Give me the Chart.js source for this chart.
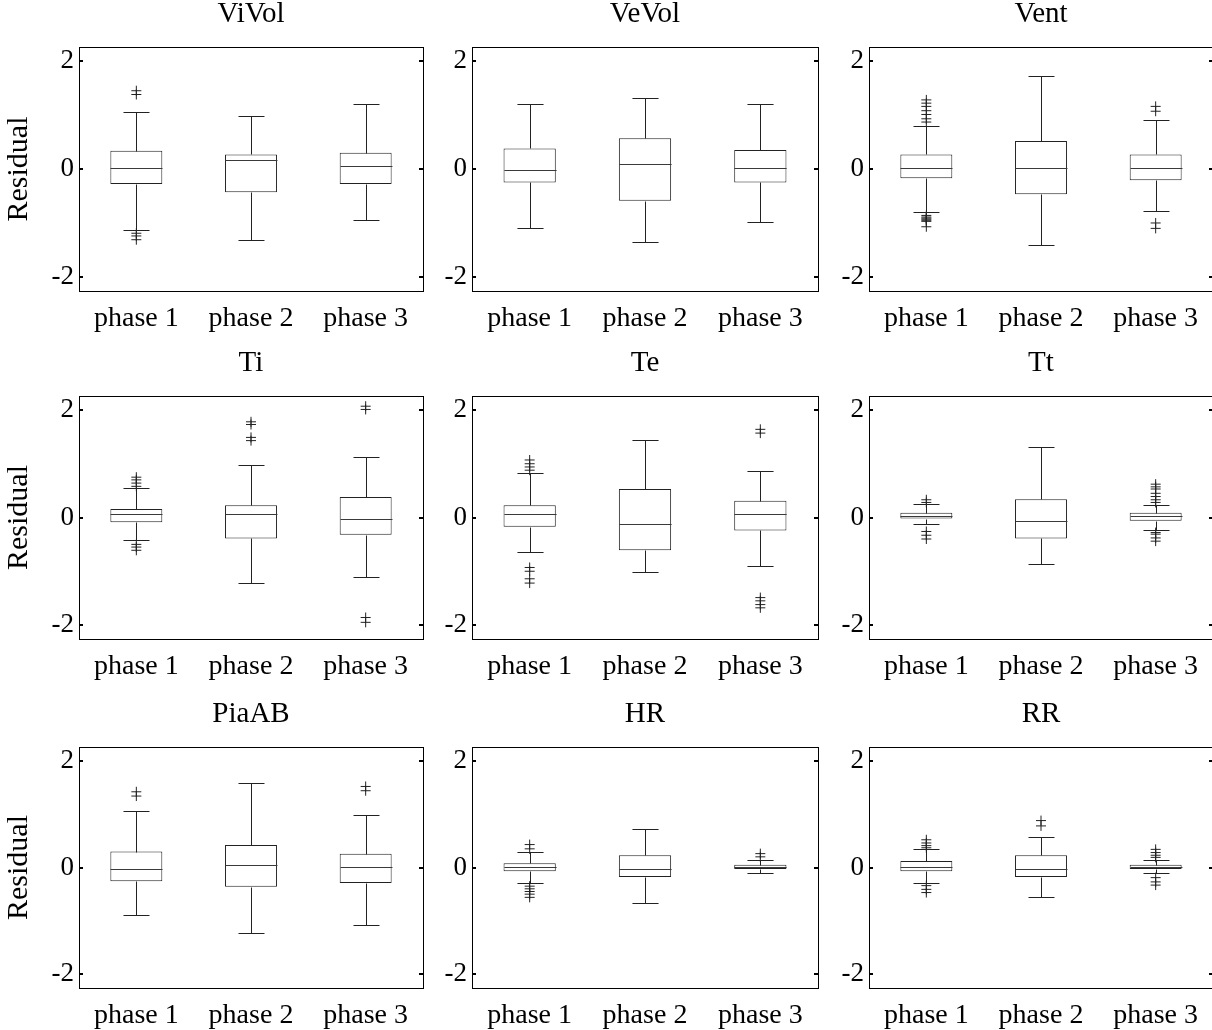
<!DOCTYPE html>
<html><head><meta charset="utf-8">
<script src="https://cdn.jsdelivr.net/npm/chart.js@4.4.0/dist/chart.umd.min.js"></script>
<style>
html,body{margin:0;padding:0;background:#fff;width:1212px;height:1030px;overflow:hidden;position:relative}
canvas{position:absolute}
</style></head><body>
<script>
// ---------------- data ----------------
const categories = ['phase 1', 'phase 2', 'phase 3'];
const panelTitles = ['ViVol', 'VeVol', 'Vent', 'Ti', 'Te', 'Tt', 'PiaAB', 'HR', 'RR'];
const yAxisTitle = 'Residual';
const yTickValues = [-2, 0, 2];
const yLimits = [-2.26, 2.26];

// lower quartile per panel, per phase
const boxLow = [
  [-0.28, -0.43, -0.28], [-0.25, -0.59, -0.25], [-0.17, -0.47, -0.21],
  [-0.09, -0.39, -0.32], [-0.17, -0.61, -0.24], [-0.02, -0.39, -0.06],
  [-0.26, -0.36, -0.29], [-0.07, -0.18, -0.03], [-0.07, -0.18, -0.03]
];
// median
const boxMedian = [
  [0.01, 0.16, 0.05], [-0.02, 0.09, 0.01], [0.01, 0.01, 0.01],
  [0.06, 0.06, -0.02], [0.06, -0.13, 0.06], [0.03, -0.06, 0.02],
  [-0.03, 0.05, 0.01], [0.01, -0.03, 0.01], [0.01, -0.03, 0.01]
];
// upper quartile
const boxHigh = [
  [0.34, 0.27, 0.30], [0.38, 0.57, 0.35], [0.27, 0.52, 0.27],
  [0.16, 0.23, 0.38], [0.23, 0.53, 0.31], [0.09, 0.34, 0.09],
  [0.30, 0.42, 0.26], [0.08, 0.23, 0.05], [0.12, 0.23, 0.05]
];
// lower whisker end
const whiskerLow = [
  [-1.13, -1.32, -0.95], [-1.10, -1.36, -0.99], [-0.80, -1.40, -0.77],
  [-0.42, -1.21, -1.10], [-0.65, -1.02, -0.91], [-0.13, -0.87, -0.24],
  [-0.90, -1.23, -1.08], [-0.29, -0.67, -0.10], [-0.29, -0.55, -0.10]
];
// upper whisker end
const whiskerHigh = [
  [1.05, 0.98, 1.20], [1.20, 1.31, 1.20], [0.79, 1.72, 0.90],
  [0.54, 0.97, 1.12], [0.83, 1.45, 0.86], [0.25, 1.31, 0.24],
  [1.06, 1.59, 0.99], [0.30, 0.73, 0.15], [0.35, 0.57, 0.15]
];
// outliers
const outliers = [
  [[1.45, 1.38, -1.19, -1.24, -1.31], [], []],
  [[], [], []],
  [[1.28, 1.22, 1.16, 1.08, 1.01, 0.93, 0.87, -0.86, -0.89, -0.91, -0.93, -0.95, -0.97, -1.07], [], [1.16, 1.07, -1.00, -1.10]],
  [[0.75, 0.70, 0.64, 0.58, -0.50, -0.55, -0.61], [1.78, 1.73, 1.49, 1.43], [2.07, 2.01, -1.86, -1.95]],
  [[1.07, 1.00, 0.94, 0.88, -0.93, -1.00, -1.14, -1.22], [], [1.64, 1.57, -1.49, -1.55, -1.62, -1.68]],
  [[0.33, 0.28, -0.26, -0.33, -0.40], [], [0.62, 0.57, 0.53, 0.45, 0.39, 0.33, 0.28, -0.28, -0.31, -0.38, -0.44]],
  [[1.42, 1.34], [], [1.52, 1.44]],
  [[0.43, 0.35, -0.35, -0.40, -0.45, -0.50, -0.56], [], [0.26, 0.20]],
  [[0.52, 0.46, 0.41, 0.37, -0.34, -0.41, -0.47], [0.88, 0.78], [0.34, 0.28, 0.23, 0.19, -0.19, -0.27, -0.33]]
];

// ---------------- layout ----------------
const colLeft = [79, 472, 869];
const colWidth = [344, 346, 344];
const rowTop = [47, 396, 747];
const rowHeight = [244, 243, 241];
const AXW = 79, TOPSP = 60, BOTSP = 45, RIGHTSP = 10;
const TITLE_SIZE = 29, TITLE_PAD = 15.6;
const FONT = "'Liberation Serif', 'Times New Roman', serif";
const LINE = '#222';

const boxplotPlugin = {
  id: 'boxplotExtras',
  afterDatasetsDraw(chart, args, opts) {
    const p = opts.panel;
    const {ctx, scales: {x, y}} = chart;
    const meta = chart.getDatasetMeta(0);
    ctx.save();
    ctx.lineWidth = 1;
    categories.forEach((c, i) => {
      const cx = Math.round(x.getPixelForValue(i)) + 0.5;
      const bw = meta.data[i].width;
      const cap = bw / 4;
      const py = v => Math.round(y.getPixelForValue(v)) + 0.5;
      ctx.strokeStyle = LINE;
      ctx.beginPath();
      ctx.moveTo(cx, py(boxHigh[p][i])); ctx.lineTo(cx, py(whiskerHigh[p][i]));
      ctx.moveTo(cx - cap, py(whiskerHigh[p][i])); ctx.lineTo(cx + cap, py(whiskerHigh[p][i]));
      ctx.moveTo(cx, py(boxLow[p][i])); ctx.lineTo(cx, py(whiskerLow[p][i]));
      ctx.moveTo(cx - cap, py(whiskerLow[p][i])); ctx.lineTo(cx + cap, py(whiskerLow[p][i]));
      ctx.stroke();
      ctx.strokeStyle = '#3a3a3a';
      ctx.beginPath();
      ctx.moveTo(cx - bw / 2, py(boxMedian[p][i])); ctx.lineTo(cx + bw / 2, py(boxMedian[p][i]));
      ctx.stroke();
    });
    ctx.restore();
  },
  afterDraw(chart) {
    const {ctx, chartArea: a, scales: {y}} = chart;
    ctx.save();
    ctx.strokeStyle = '#000';
    ctx.lineWidth = 1;
    ctx.strokeRect(Math.round(a.left) + 0.5, Math.round(a.top) + 0.5,
      Math.round(a.right - a.left), Math.round(a.bottom - a.top));
    ctx.lineWidth = 2;
    ctx.beginPath();
    yTickValues.forEach(v => {
      const yy = Math.round(y.getPixelForValue(v));
      ctx.moveTo(a.left, yy); ctx.lineTo(a.left + 4, yy);
      ctx.moveTo(a.right, yy); ctx.lineTo(a.right - 4, yy);
    });
    ctx.stroke();
    ctx.restore();
  }
};

panelTitles.forEach((title, p) => {
  const col = p % 3, row = Math.floor(p / 3);
  const cv = document.createElement('canvas');
  const w = AXW + colWidth[col] + RIGHTSP;
  const h = TOPSP + rowHeight[row] + BOTSP;
  cv.width = w; cv.height = h;
  cv.style.left = (colLeft[col] - AXW) + 'px';
  cv.style.top = (rowTop[row] - TOPSP) + 'px';
  cv.style.width = w + 'px'; cv.style.height = h + 'px';
  document.body.appendChild(cv);

  const outlierPts = [];
  outliers[p].forEach((list, i) => list.forEach(v => outlierPts.push({x: categories[i], y: v})));

  new Chart(cv, {
    type: 'bar',
    data: {
      labels: categories,
      datasets: [
        {
          type: 'bar',
          data: categories.map((c, i) => [boxLow[p][i], boxHigh[p][i]]),
          backgroundColor: '#ffffff',
          borderColor: LINE,
          borderWidth: 1,
          borderSkipped: false,
          barPercentage: 0.453,
          categoryPercentage: 1
        },
        {
          type: 'line',
          showLine: false,
          data: outlierPts,
          pointStyle: 'cross',
          pointRadius: 5,
          pointBorderColor: LINE,
          borderColor: LINE,
          pointBorderWidth: 1,
          backgroundColor: 'transparent'
        }
      ]
    },
    options: {
      responsive: false,
      animation: false,
      devicePixelRatio: 1,
      events: [],
      layout: {padding: {top: TOPSP - TITLE_SIZE * 1.2 - TITLE_PAD, right: RIGHTSP, left: 0, bottom: 0}},
      plugins: {
        legend: {display: false},
        tooltip: {enabled: false},
        title: {
          display: true, text: title, fullSize: false, color: '#000',
          font: {family: FONT, size: TITLE_SIZE, weight: 'normal'},
          padding: {top: 0, bottom: TITLE_PAD}
        },
        boxplotExtras: {panel: p}
      },
      scales: {
        x: {
          type: 'category',
          offset: true,
          grid: {display: false, drawTicks: false},
          border: {display: false},
          ticks: {font: {family: FONT, size: 28}, color: '#000', padding: 11, maxRotation: 0, autoSkip: false},
          afterFit: s => { s.height = BOTSP; }
        },
        y: {
          min: yLimits[0], max: yLimits[1],
          grid: {display: false, drawTicks: false},
          border: {display: false},
          afterBuildTicks: s => { s.ticks = yTickValues.map(v => ({value: v})); },
          ticks: {font: {family: FONT, size: 27}, color: '#000', padding: 5, callback: v => String(v)},
          title: {display: col === 0, text: yAxisTitle, color: '#000',
            font: {family: FONT, size: 30}, padding: {top: 1, bottom: 0}},
          afterFit: s => { s.width = AXW; }
        }
      }
    },
    plugins: [boxplotPlugin]
  });
});
</script>
</body></html>
